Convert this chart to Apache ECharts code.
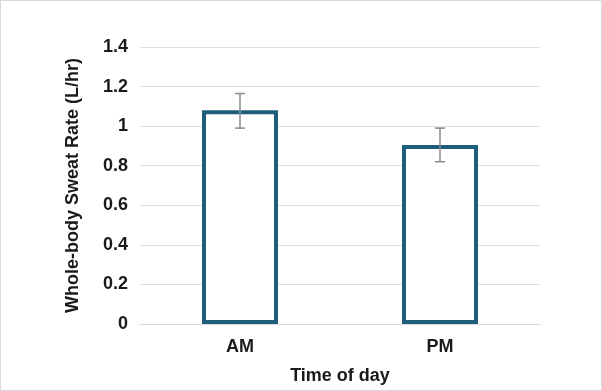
<!DOCTYPE html>
<html>
<head>
<meta charset="utf-8">
<script src="https://cdn.jsdelivr.net/npm/echarts@6/dist/echarts.min.js"></script>
<style>
  html, body { margin: 0; padding: 0; background: #fff; }
  #chart { width: 600px; height: 389px; border: 1px solid #d9d9d9; }
</style>
</head>
<body>
<div id="chart"></div>
<script>
var categories = ['AM', 'PM'];
var sweatRate = [1.08, 0.905];
var errLow = [0.99, 0.82];
var errHigh = [1.165, 0.99];

var chart = echarts.init(document.getElementById('chart'));
var font = 'Liberation Sans, Arial, sans-serif';

chart.setOption({
  animation: false,
  grid: { left: 139, right: 61, top: 46, bottom: 65 },
  xAxis: {
    type: 'category',
    data: categories,
    name: 'Time of day',
    nameLocation: 'middle',
    nameGap: 43,
    nameTextStyle: { fontFamily: font, fontSize: 18, fontWeight: 'bold', color: '#1a1a1a', verticalAlign: 'top' },
    axisLine: { lineStyle: { color: '#d9d9d9' } },
    axisTick: { show: false },
    axisLabel: { fontFamily: font, fontSize: 18, fontWeight: 'bold', color: '#1a1a1a', margin: 14 }
  },
  yAxis: {
    type: 'value',
    min: 0,
    max: 1.4,
    interval: 0.2,
    name: 'Whole-body Sweat Rate (L/hr)',
    nameLocation: 'middle',
    nameGap: 58,
    nameTextStyle: { fontFamily: font, fontSize: 18, fontWeight: 'bold', color: '#1a1a1a' },
    axisLine: { show: false },
    axisTick: { show: false },
    splitLine: { lineStyle: { color: '#dedede' } },
    axisLabel: {
      fontFamily: font, fontSize: 18, fontWeight: 'bold', color: '#1a1a1a', margin: 12,
      formatter: function (v) { return String(Math.round(v * 10) / 10); }
    }
  },
  series: [
    {
      type: 'bar',
      data: sweatRate,
      barWidth: '38%',
      itemStyle: { color: '#fff', borderColor: '#1f5d7c', borderWidth: 4 }
    },
    {
      type: 'custom',
      data: categories.map(function (c, i) { return [i, errLow[i], errHigh[i]]; }),
      z: 10,
      renderItem: function (params, api) {
        var lo = api.coord([api.value(0), api.value(1)]);
        var hi = api.coord([api.value(0), api.value(2)]);
        var w = 5;
        var style = { stroke: '#8a8a8a', lineWidth: 1.5 };
        return {
          type: 'group',
          children: [
            { type: 'line', shape: { x1: hi[0], y1: hi[1], x2: lo[0], y2: lo[1] }, style: style },
            { type: 'line', shape: { x1: hi[0] - w, y1: hi[1], x2: hi[0] + w, y2: hi[1] }, style: style },
            { type: 'line', shape: { x1: lo[0] - w, y1: lo[1], x2: lo[0] + w, y2: lo[1] }, style: style }
          ]
        };
      }
    }
  ]
});
</script>
</body>
</html>
